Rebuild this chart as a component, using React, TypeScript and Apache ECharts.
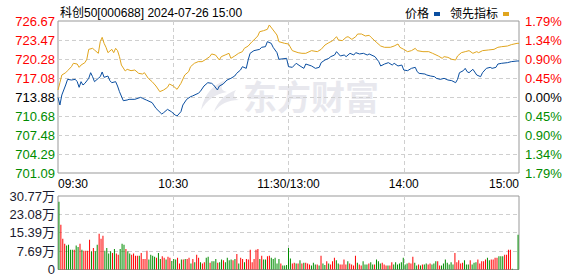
import React, { useEffect, useRef } from 'react';
import * as echarts from 'echarts';

const FONT = '"Liberation Sans", Arial, "Noto Sans CJK SC", sans-serif';
const UP = '#ff0000';
const DOWN = '#008c00';
const FLAT = '#000000';

const PREV_CLOSE = 713.88;
const PRICE_STEP = 3.1975;
const VOL_STEP = 7.6925;

const titleText = '科创50[000688] 2024-07-26 15:00';
const timeLabels = ['09:30', '10:30', '11:30/13:00', '14:00', '15:00'];
const priceLabels = ['701.09', '704.29', '707.48', '710.68', '713.88', '717.08', '720.28', '723.47', '726.67'];
const pctLabels = ['1.79%', '1.34%', '0.90%', '0.45%', '0.00%', '0.45%', '0.90%', '1.34%', '1.79%'];
const volLabels = ['0', '7.69万', '15.39万', '23.08万', '30.77万'];

// 价格 (minute from 09:30, trading minutes)
const priceMinutes = [0, 1, 2, 4, 5, 7, 9, 10, 11, 12, 13, 14, 16, 17, 18, 19, 21, 22, 23, 24, 26, 27, 28, 30, 31, 32, 34, 36, 37, 40, 43, 44, 46, 49, 51, 54, 55, 57, 59, 61, 62, 64, 65, 67, 69, 70, 73, 74, 76, 78, 80, 81, 83, 84, 86, 88, 90, 92, 93, 95, 96, 98, 99, 100, 102, 105, 106, 108, 109, 111, 112, 114, 115, 119, 120, 122, 124, 126, 128, 129, 132, 134, 136, 137, 139, 141, 142, 144, 145, 147, 149, 150, 152, 154, 155, 157, 159, 161, 162, 165, 167, 168, 170, 172, 174, 175, 177, 179, 180, 182, 184, 186, 187, 188, 191, 192, 194, 196, 197, 199, 201, 203, 205, 207, 208, 209, 211, 212, 213, 214, 216, 218, 220, 221, 223, 225, 226, 228, 229, 231, 234, 236, 239, 240];
const priceValues = [713.82, 712.53, 714.22, 715.90, 716.85, 716.74, 716.85, 716.46, 715.51, 716.46, 715.90, 716.18, 717.02, 717.97, 717.30, 716.46, 717.02, 717.30, 718.09, 717.19, 717.41, 716.63, 716.29, 716.46, 715.73, 714.78, 713.26, 713.37, 713.49, 713.49, 713.82, 713.66, 713.37, 712.93, 711.97, 711.02, 711.24, 711.80, 711.41, 710.85, 710.68, 711.41, 712.53, 713.49, 713.93, 714.05, 714.50, 714.78, 715.73, 716.29, 716.18, 715.90, 715.06, 715.73, 716.07, 716.74, 717.02, 717.41, 717.86, 718.42, 718.98, 718.70, 720.11, 721.23, 721.68, 721.90, 722.24, 722.35, 723.19, 722.91, 722.24, 721.34, 720.22, 720.39, 718.98, 718.87, 719.55, 719.10, 718.70, 719.43, 719.10, 718.70, 718.87, 719.66, 720.11, 720.39, 720.67, 720.95, 721.51, 720.78, 720.95, 720.67, 721.23, 720.95, 721.34, 721.12, 721.23, 720.95, 721.12, 720.67, 719.83, 719.10, 719.43, 719.66, 719.26, 719.55, 719.10, 719.26, 718.42, 718.31, 718.70, 718.87, 718.14, 717.86, 717.75, 717.58, 717.41, 717.30, 717.02, 716.85, 717.02, 716.74, 716.63, 716.29, 716.85, 717.97, 718.31, 718.70, 718.14, 717.97, 718.54, 717.58, 717.30, 717.97, 718.70, 718.87, 718.70, 718.87, 719.43, 719.55, 719.66, 719.83, 719.94, 719.94];

// 领先指标
const leadMinutes = [0, 1, 2, 4, 5, 7, 8, 10, 11, 12, 14, 15, 16, 18, 19, 21, 22, 23, 24, 25, 26, 28, 29, 30, 31, 32, 33, 35, 36, 38, 40, 42, 44, 45, 47, 49, 51, 53, 55, 57, 58, 60, 62, 64, 66, 68, 69, 71, 73, 75, 77, 79, 80, 82, 84, 85, 87, 89, 90, 92, 94, 96, 97, 99, 101, 102, 104, 105, 107, 109, 110, 112, 114, 115, 118, 120, 122, 125, 127, 129, 132, 135, 137, 139, 141, 143, 145, 146, 148, 150, 151, 153, 155, 156, 158, 160, 162, 163, 166, 168, 170, 173, 175, 177, 178, 180, 182, 184, 186, 187, 190, 193, 195, 198, 200, 201, 203, 205, 207, 208, 210, 212, 214, 216, 218, 219, 221, 224, 227, 229, 231, 234, 236, 239, 240];
const leadValues = [715.06, 716.29, 717.58, 717.97, 718.31, 718.98, 719.55, 719.43, 718.87, 719.26, 719.66, 720.22, 721.90, 722.07, 721.79, 721.23, 723.19, 723.92, 722.91, 722.24, 721.34, 721.90, 721.34, 722.07, 721.68, 720.67, 719.26, 718.26, 718.54, 718.31, 718.42, 717.86, 717.75, 717.97, 717.02, 716.46, 715.73, 714.78, 715.06, 715.51, 716.07, 715.73, 715.17, 716.18, 717.58, 718.14, 718.98, 719.55, 719.83, 719.83, 720.22, 720.67, 721.12, 720.95, 720.11, 720.67, 720.95, 721.23, 720.39, 720.78, 721.23, 721.51, 722.07, 722.46, 723.19, 723.47, 724.15, 724.87, 725.04, 725.27, 726.00, 725.16, 724.31, 723.19, 722.91, 722.80, 721.68, 721.34, 721.23, 721.23, 721.68, 721.51, 721.90, 722.63, 723.02, 723.36, 724.03, 723.47, 723.36, 723.92, 724.03, 723.58, 724.03, 724.48, 724.48, 724.15, 724.26, 723.92, 723.02, 722.46, 722.24, 722.24, 722.46, 722.80, 722.24, 721.90, 721.51, 721.68, 722.07, 721.68, 721.51, 721.51, 721.23, 720.78, 720.39, 720.67, 720.55, 720.22, 720.11, 720.78, 721.34, 721.51, 721.68, 721.23, 721.51, 721.34, 721.68, 721.79, 721.90, 722.24, 722.35, 722.46, 722.69, 722.91, 722.91];

// 成交量 (万), one per minute, 241 bars
const volumes = [
  28.4, 18.7, 12.9, 10.8, 10.0, 10.4, 8.3, 8.3, 8.3, 10.0,
  9.4, 10.8, 8.3, 7.9, 7.9, 7.9, 12.5, 7.6, 9.0, 7.6,
  10.4, 15.0, 12.9, 14.1, 7.9, 9.0, 6.7, 7.6, 6.9, 8.6,
  6.7, 6.2, 8.6, 10.8, 10.4, 8.6, 7.6, 6.7, 6.2, 6.7,
  5.8, 5.8, 5.8, 6.9, 4.4, 4.4, 7.9, 4.2, 6.2, 5.8,
  5.3, 4.9, 6.9, 4.4, 5.5, 4.9, 4.2, 5.3, 4.9, 3.6,
  4.4, 4.2, 4.9, 2.5, 4.2, 4.2, 4.4, 4.4, 4.9, 2.5,
  4.4, 3.0, 6.2, 4.9, 3.0, 2.5, 3.0, 4.9, 5.3, 2.8,
  3.5, 3.5, 4.4, 2.8, 3.0, 4.2, 3.9, 3.0, 4.9, 3.9,
  4.2, 3.9, 4.4, 6.5, 2.5, 4.9, 4.4, 3.0, 4.4, 4.2,
  8.3, 3.0, 4.4, 8.3, 8.6, 4.4, 5.8, 4.2, 4.2, 5.5,
  5.8, 4.9, 4.4, 4.9, 2.5, 4.4, 2.5, 1.7, 1.7, 1.9,
  9.0, 4.6, 2.5, 2.8, 2.5, 2.5, 3.9, 2.5, 2.8, 2.8,
  2.5, 2.1, 1.7, 2.8, 2.1, 2.1, 1.7, 5.8, 2.5, 1.9,
  3.5, 2.5, 2.1, 3.5, 4.9, 3.9, 2.5, 2.1, 2.1, 4.2,
  2.1, 3.5, 2.5, 2.1, 1.7, 5.8, 2.8, 2.1, 1.7, 3.5,
  2.1, 2.1, 2.5, 3.0, 2.1, 2.1, 4.2, 3.5, 2.5, 2.8,
  2.1, 1.7, 1.7, 1.7, 3.0, 2.1, 3.0, 2.1, 2.5, 3.0,
  4.9, 2.1, 2.5, 2.8, 2.5, 5.3, 2.8, 1.7, 2.1, 1.7,
  2.1, 2.1, 2.5, 2.1, 2.5, 2.1, 2.5, 3.5, 3.5, 1.7,
  1.7, 2.5, 4.2, 2.8, 2.1, 3.0, 2.1, 6.9, 3.0, 3.9,
  2.5, 2.8, 3.9, 2.1, 2.1, 3.9, 2.1, 2.8, 3.0, 4.2,
  2.5, 3.5, 3.5, 4.2, 4.9, 3.9, 4.2, 4.2, 4.9, 4.9,
  5.5, 5.5, 5.5, 6.2, 6.2, 8.3, 8.3, 0.3, 0, 0,
  14.6,
];
// 1 = up (red), 0 = down (green)
const volumeUp = [
  0, 1, 1, 1, 0, 0, 0, 0, 1, 0,
  0, 1, 0, 1, 1, 1, 1, 0, 1, 0,
  0, 1, 1, 1, 0, 0, 0, 0, 1, 0,
  1, 1, 0, 0, 0, 1, 0, 0, 1, 1,
  1, 1, 0, 1, 1, 1, 1, 0, 0, 0,
  0, 1, 0, 0, 1, 1, 0, 1, 1, 0,
  0, 0, 1, 1, 0, 1, 0, 1, 1, 0,
  1, 0, 1, 1, 0, 1, 1, 0, 0, 1,
  0, 0, 0, 1, 0, 0, 1, 0, 0, 0,
  0, 1, 0, 1, 0, 1, 1, 0, 1, 1,
  1, 1, 1, 1, 1, 0, 1, 0, 0, 1,
  1, 0, 0, 0, 0, 0, 1, 0, 0, 0,
  0, 0, 1, 1, 0, 1, 0, 1, 0, 1,
  1, 1, 0, 0, 0, 1, 0, 1, 0, 0,
  1, 0, 1, 1, 1, 0, 0, 1, 1, 1,
  1, 0, 1, 1, 1, 1, 0, 1, 1, 0,
  0, 0, 1, 0, 0, 1, 0, 0, 0, 1,
  1, 1, 0, 1, 1, 0, 0, 0, 0, 0,
  0, 0, 0, 1, 1, 1, 0, 0, 1, 0,
  1, 0, 0, 1, 1, 0, 0, 0, 1, 1,
  0, 0, 0, 0, 0, 0, 0, 1, 1, 1,
  1, 1, 0, 0, 0, 1, 0, 0, 0, 1,
  1, 1, 1, 1, 0, 0, 1, 1, 1, 1,
  0, 0, 0, 1, 1, 1, 1, 0, 0, 0,
  0,
];

echarts.graphic.registerShape(
  'emLogo',
  echarts.graphic.extendPath(
    'M28 2 C16 6 6 16 3 32 C9 22 17 16 29 14 C22 12 22 8 28 2 Z M38 12 C27 16 19 24 16 34 C22 26 30 22 41 22 C35 20 35 16 38 12 Z',
    {}
  )
);

function levelColor(idx: number, mid: number) {
  if (idx > mid) return UP;
  if (idx < mid) return DOWN;
  return FLAT;
}

export default function App() {
  const ref = useRef<HTMLDivElement>(null);
  useEffect(() => {
    if (!ref.current) return;
    const chart = echarts.init(ref.current, undefined, { renderer: 'svg' });
    const gridLine = { color: '#cfcfcf', type: [4, 3] as any, width: 1 };
    const option: any = {
      animation: false,
      backgroundColor: '#ffffff',
      title: {
        text: titleText,
        left: 55,
        top: 2,
        textStyle: { fontSize: 12, fontWeight: 'normal', color: '#000', fontFamily: FONT },
      },
      legend: {
        right: 64,
        top: 3,
        align: 'right',
        icon: 'rect',
        itemWidth: 6,
        itemHeight: 4,
        itemGap: 10,
        textStyle: { fontSize: 12, color: '#000', fontFamily: FONT },
        data: ['价格', '领先指标'],
      },
      graphic: [
        {
          type: 'text',
          left: 243,
          top: 78,
          z: 0,
          silent: true,
          style: { text: '东方财富', fontSize: 34, fontWeight: 'bold', fill: '#e8e8ee', fontFamily: '"Noto Sans CJK SC", sans-serif' },
        },
        { type: 'emLogo', x: 198, y: 78, z: 0, silent: true, style: { fill: '#e8e8ee' } },
      ],
      grid: [
        { left: 58, top: 21, width: 461, height: 152, show: true, borderColor: '#999', borderWidth: 1, backgroundColor: 'transparent' },
        { left: 58, top: 196, width: 461, height: 74, show: true, borderColor: '#999', borderWidth: 1, backgroundColor: 'transparent' },
      ],
      xAxis: [
        {
          type: 'value', gridIndex: 0, min: 0, max: 240, interval: 60,
          axisLine: { show: false }, axisTick: { show: false },
          splitLine: { show: true, showMinLine: false, showMaxLine: false, lineStyle: gridLine },
          axisLabel: {
            margin: 5, fontSize: 12, color: '#000', fontFamily: FONT,
            alignMinLabel: 'left', alignMaxLabel: 'right',
            formatter: (v: number) => timeLabels[Math.round(v / 60)] ?? '',
          },
        },
        {
          type: 'category', gridIndex: 1, data: volumes.map((_, i) => String(i)),
          axisLine: { show: false }, axisTick: { show: false }, axisLabel: { show: false }, splitLine: { show: false },
        },
        {
          type: 'value', gridIndex: 1, min: 0, max: 240, interval: 60,
          axisLine: { show: false }, axisTick: { show: false }, axisLabel: { show: false },
          splitLine: { show: true, showMinLine: false, showMaxLine: false, lineStyle: gridLine },
        },
      ],
      yAxis: [
        {
          type: 'value', gridIndex: 0, position: 'left', min: -4, max: 4, interval: 1,
          axisLine: { show: false }, axisTick: { show: false },
          splitLine: { show: true, showMinLine: false, showMaxLine: false, lineStyle: gridLine },
          axisLabel: {
            margin: 3, fontSize: 13, fontFamily: FONT,
            formatter: (v: number) => priceLabels[Math.round(v) + 4] ?? '',
            color: (v: any) => levelColor(Math.round(Number(v)) + 4, 4),
          },
        },
        {
          type: 'value', gridIndex: 0, position: 'right', min: -4, max: 4, interval: 1,
          axisLine: { show: false }, axisTick: { show: false }, splitLine: { show: false },
          axisLabel: {
            margin: 6, fontSize: 13, fontFamily: FONT,
            formatter: (v: number) => pctLabels[Math.round(v) + 4] ?? '',
            color: (v: any) => levelColor(Math.round(Number(v)) + 4, 4),
          },
        },
        {
          type: 'value', gridIndex: 1, min: 0, max: 4, interval: 1,
          axisLine: { show: false }, axisTick: { show: false },
          splitLine: { show: true, showMinLine: false, showMaxLine: false, lineStyle: gridLine },
          axisLabel: {
            margin: 3, fontSize: 13, fontFamily: FONT, color: '#1a1a2e',
            padding: [3, 0, 0, 0],
            formatter: (v: number) => volLabels[Math.round(v)] ?? '',
          },
        },
      ],
      series: [
        {
          name: '领先指标', type: 'line', xAxisIndex: 0, yAxisIndex: 0,
          showSymbol: false, symbol: 'none', color: '#e0a51e',
          lineStyle: { width: 1, color: '#e0a51e' },
          data: leadMinutes.map((m, i) => [m, (leadValues[i] - PREV_CLOSE) / PRICE_STEP]),
          z: 3,
        },
        {
          name: '价格', type: 'line', xAxisIndex: 0, yAxisIndex: 0,
          showSymbol: false, symbol: 'none', color: '#0a4ea0',
          lineStyle: { width: 1, color: '#0a4ea0' },
          data: priceMinutes.map((m, i) => [m, (priceValues[i] - PREV_CLOSE) / PRICE_STEP]),
          z: 4,
        },
        {
          name: '成交量', type: 'bar', xAxisIndex: 1, yAxisIndex: 2, barWidth: 1,
          data: volumes.map((v, i) => ({
            value: v / VOL_STEP,
            itemStyle: { color: volumeUp[i] ? UP : DOWN },
          })),
          z: 3,
        },
      ],
    };
    chart.setOption(option);
    return () => chart.dispose();
  }, []);
  return (
    <div
      ref={ref}
      style={{ position: 'fixed', left: 0, top: 0, width: 578, height: 276, background: '#fff' }}
    />
  );
}
